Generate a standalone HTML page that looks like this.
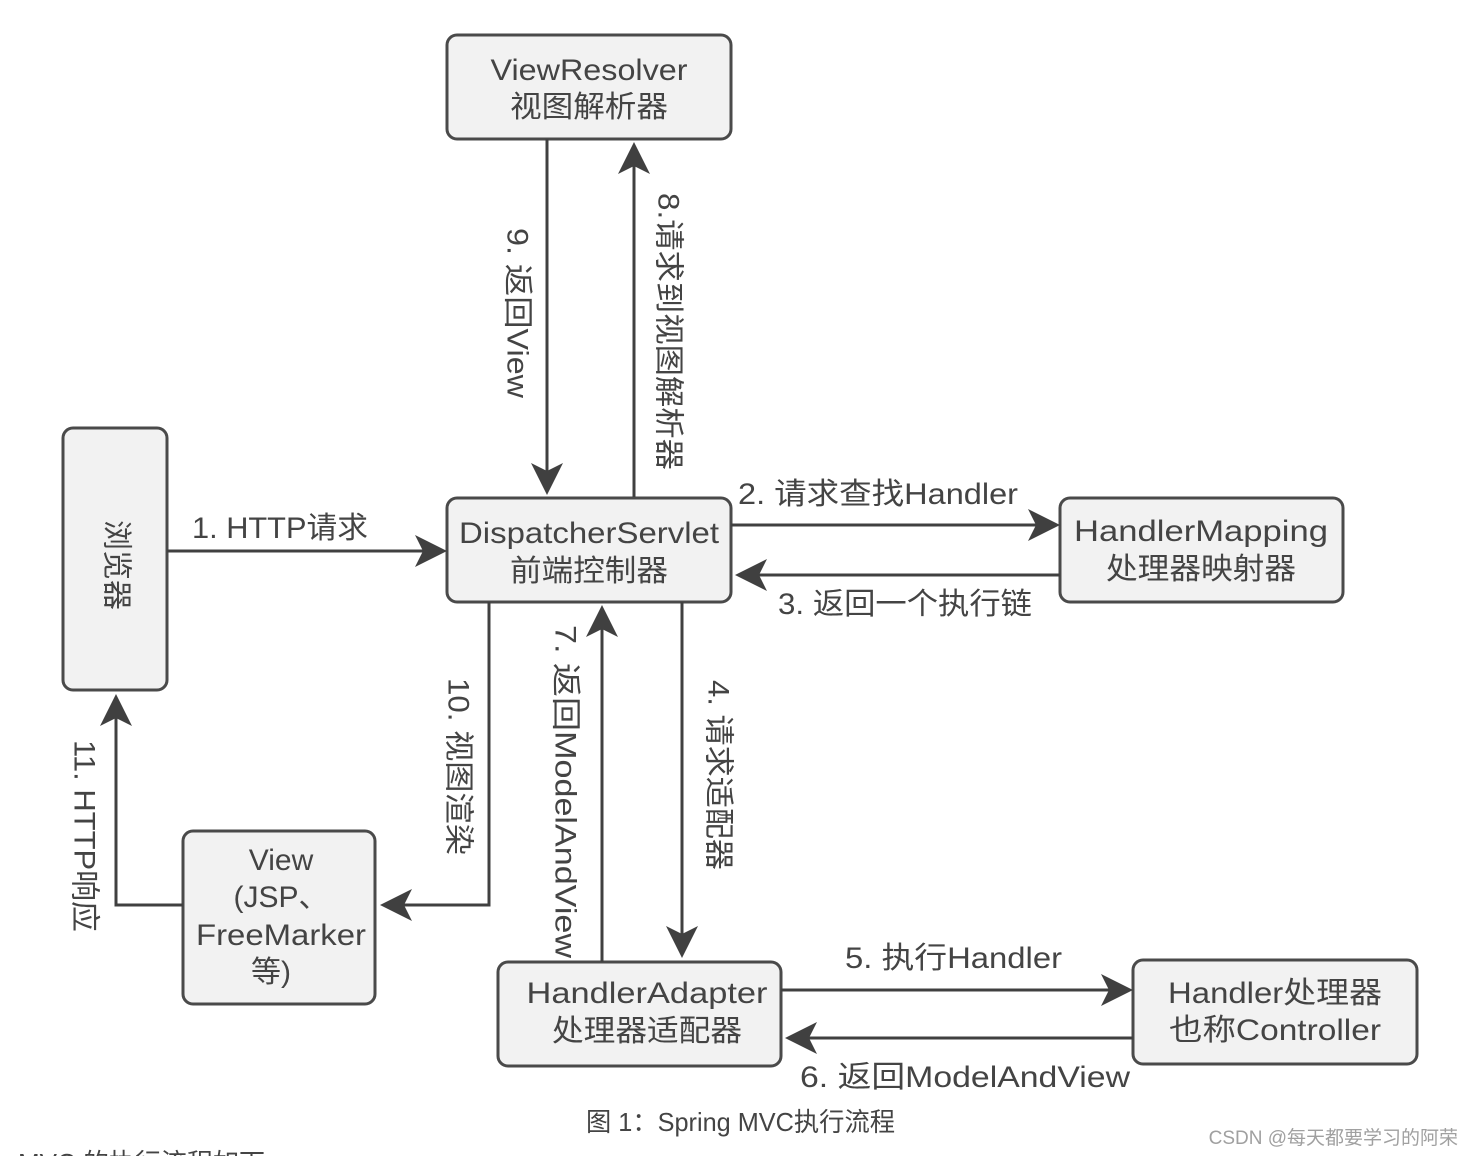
<!DOCTYPE html>
<html><head><meta charset="utf-8"><style>
html,body{margin:0;padding:0;background:#fff;}
svg{display:block;}
text{font-family:"Liberation Sans","Noto Sans CJK SC",sans-serif;fill:#444;}
</style></head><body>
<svg width="1474" height="1156" viewBox="0 0 1474 1156" xmlns="http://www.w3.org/2000/svg">
<g fill="#f2f2f2" stroke="#4a4a4a" stroke-width="3">
<rect x="447" y="35" width="284" height="104" rx="10"/>
<rect x="63" y="428" width="104" height="262" rx="10"/>
<rect x="447" y="498" width="284" height="104" rx="10"/>
<rect x="1060" y="498" width="283" height="104" rx="10"/>
<rect x="183" y="831" width="192" height="173" rx="10"/>
<rect x="498" y="962" width="283" height="104" rx="10"/>
<rect x="1133" y="960" width="284" height="104" rx="10"/>
</g>
<g stroke="#404040" stroke-width="3" fill="none">
<path d="M547 139V475"/>
<path d="M634 497V162"/>
<path d="M167 551H427"/>
<path d="M731 525H1040"/>
<path d="M1060 575H755"/>
<path d="M489 602V905H400"/>
<path d="M602 962V625"/>
<path d="M682 602V938"/>
<path d="M183 905H116V714"/>
<path d="M781 990H1113"/>
<path d="M1133 1038H805"/>
</g>
<g fill="#404040">
<path d="M547 495l-16-32 16 8 16-8z"/>
<path d="M634 142l-16 32 16-8 16 8z"/>
<path d="M447 551l-32-16 8 16-8 16z"/>
<path d="M1060 525l-32-16 8 16-8 16z"/>
<path d="M735 575l32-16-8 16 8 16z"/>
<path d="M380 905l32-16-8 16 8 16z"/>
<path d="M602 605l-16 32 16-8 16 8z"/>
<path d="M682 958l-16-32 16 8 16-8z"/>
<path d="M116 694l-16 32 16-8 16 8z"/>
<path d="M1133 990l-32-16 8 16-8 16z"/>
<path d="M785 1038l32-16-8 16 8 16z"/>
</g>
<g font-size="30" text-anchor="middle" lengthAdjust="spacingAndGlyphs">
<text x="589" y="80" textLength="197" lengthAdjust="spacingAndGlyphs">ViewResolver</text>
<text x="589" y="117" textLength="158" lengthAdjust="spacingAndGlyphs">视图解析器</text>
<text x="589" y="543" textLength="260" lengthAdjust="spacingAndGlyphs">DispatcherServlet</text>
<text x="589" y="581" textLength="158" lengthAdjust="spacingAndGlyphs">前端控制器</text>
<text x="1201" y="541" textLength="254" lengthAdjust="spacingAndGlyphs">HandlerMapping</text>
<text x="1201" y="579" textLength="190" lengthAdjust="spacingAndGlyphs">处理器映射器</text>
<text x="281" y="870">View</text>
<text x="281" y="907">(JSP、</text>
<text x="281" y="945" textLength="170" lengthAdjust="spacingAndGlyphs">FreeMarker</text>
<text x="271" y="982">等)</text>
<text x="647" y="1003" textLength="241" lengthAdjust="spacingAndGlyphs">HandlerAdapter</text>
<text x="647" y="1041" textLength="190" lengthAdjust="spacingAndGlyphs">处理器适配器</text>
<text x="1275" y="1003" textLength="214" lengthAdjust="spacingAndGlyphs">Handler处理器</text>
<text x="1275" y="1040" textLength="212" lengthAdjust="spacingAndGlyphs">也称Controller</text>
</g>
<g font-size="30">
<text x="192" y="538" textLength="176" lengthAdjust="spacingAndGlyphs">1. HTTP请求</text>
<text x="738" y="504" textLength="280" lengthAdjust="spacingAndGlyphs">2. 请求查找Handler</text>
<text x="778" y="614" textLength="254" lengthAdjust="spacingAndGlyphs">3. 返回一个执行链</text>
<text x="845" y="968" textLength="217" lengthAdjust="spacingAndGlyphs">5. 执行Handler</text>
<text x="800" y="1087" textLength="330" lengthAdjust="spacingAndGlyphs">6. 返回ModelAndView</text>
</g>
<g font-size="30" dominant-baseline="central">
<text transform="translate(116,520) rotate(90)">浏览器</text>
<text transform="translate(517,228) rotate(90)" textLength="170" lengthAdjust="spacingAndGlyphs">9. 返回View</text>
<text transform="translate(668,193) rotate(90)" textLength="277" lengthAdjust="spacingAndGlyphs">8.请求到视图解析器</text>
<text transform="translate(458,678) rotate(90)" textLength="177" lengthAdjust="spacingAndGlyphs">10. 视图渲染</text>
<text transform="translate(565,625) rotate(90)" textLength="333" lengthAdjust="spacingAndGlyphs">7. 返回ModelAndView</text>
<text transform="translate(718,680) rotate(90)" textLength="190" lengthAdjust="spacingAndGlyphs">4. 请求适配器</text>
<text transform="translate(84,740) rotate(90)" textLength="192" lengthAdjust="spacingAndGlyphs">11. HTTP响应</text>
</g>
<text x="586" y="1131" font-size="26" fill="#333" textLength="309" lengthAdjust="spacingAndGlyphs">图 1：Spring MVC执行流程</text>
<text x="1458" y="1144" font-size="19" text-anchor="end" style="fill:#a0a0a0">CSDN @每天都要学习的阿荣</text>
<text x="18" y="1172" font-size="26" fill="#333">MVC 的执行流程如下</text>
</svg>
</body></html>
